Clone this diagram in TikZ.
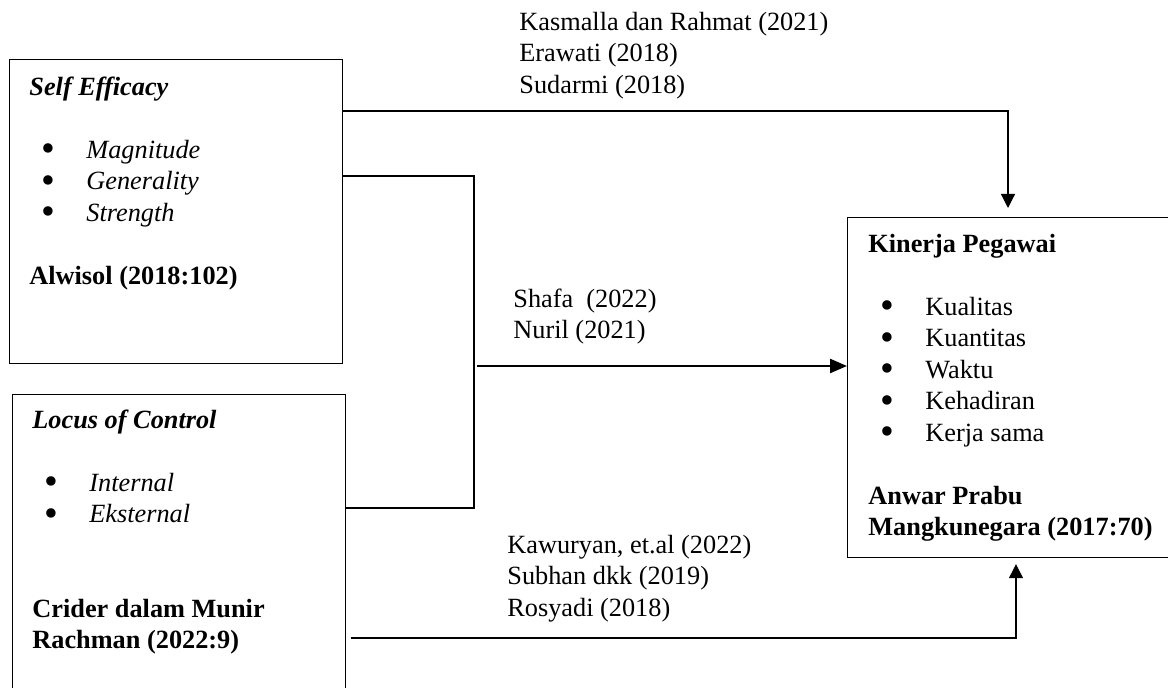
\documentclass[tikz,border=0pt]{standalone}
\usepackage{fontspec}
\setmainfont{Liberation Serif}
\usetikzlibrary{arrows.meta}
\tikzstyle{box}=[draw,line width=0.6pt,anchor=north west,inner sep=0pt]
\tikzstyle{txt}=[anchor=north west,inner sep=0pt,align=left,font=\fontsize{13.15}{15.75}\selectfont]
\tikzstyle{link}=[line width=0.6pt,-{Triangle[length=7pt,width=7pt]}]
\tikzstyle{bold link}=[line width=1.2pt]
\newcommand{\itm}{\hspace*{6pt}\makebox[22.5pt][l]{\smash{\raisebox{-1.6pt}{\scalebox{1.5}{\textbullet}}}}}

\begin{document}
\begin{tikzpicture}[x=0.5pt,y=-0.5pt]
      \useasboundingbox (0,0) rectangle (1168,688);
      \clip (0,0) rectangle (1168,688);
      % boxes
      \node[box,minimum width=166.5pt,minimum height=152pt] (se) at (9,59) {};
      \node[box,minimum width=166.5pt,minimum height=160pt] (loc) at (12,394) {};
      \node[box,minimum width=165pt,minimum height=170pt] (kp) at (847,217) {};
      % box texts
      \node[txt] (set) at (29,73) {\strut\textbf{\textit{Self Efficacy}}\\[15.75pt]%
        \itm\textit{Magnitude}\\%
        \itm\textit{Generality}\\%
        \itm\textit{Strength}\\[15.75pt]%
        \textbf{Alwisol (2018:102)}};
      \node[txt] (loct) at (32,406) {\strut\textbf{\textit{Locus of Control}}\\[15.75pt]%
        \itm\textit{Internal}\\%
        \itm\textit{Eksternal}\\[31.5pt]%
        \textbf{Crider dalam Munir}\\%
        \textbf{Rachman (2022:9)}};
      \node[txt] (kpt) at (868,230) {\strut\textbf{Kinerja Pegawai}\\[15.75pt]%
        \itm Kualitas\\%
        \itm Kuantitas\\%
        \itm Waktu\\%
        \itm Kehadiran\\%
        \itm Kerja sama\\[15.75pt]%
        \textbf{Anwar Prabu}\\%
        \textbf{Mangkunegara (2017:70)}};
      % sources
      \node[txt] (kas) at (519,8) {\strut Kasmalla dan Rahmat (2021)\\Erawati (2018)\\Sudarmi (2018)};
      \node[txt] (sha) at (513,285) {\strut Shafa\ \ (2022)\\Nuril (2021)};
      \node[txt] (kaw) at (507,531) {\strut Kawuryan, et.al (2022)\\Subhan dkk (2019)\\Rosyadi (2018)};
      % connectors
      \draw[link] ([yshift=-26pt]se.north east) -| ([xshift=80.5pt,yshift=4.5pt]kp.north west);
      \draw[bold link] ([yshift=-58.5pt]se.north east) -- ++(131,0) |- ([yshift=-57pt]loc.north east);
      \coordinate (mid) at (477,366);
      \draw[bold link,-{Triangle[length=8.5pt,width=7pt]}] (mid) -- ([yshift=-74.5pt]kp.north west);
      \draw[link] ([xshift=2.5pt,yshift=-122pt]loc.north east) -| ([xshift=84.5pt,yshift=-3pt]kp.south west);
\end{tikzpicture}
\end{document}
